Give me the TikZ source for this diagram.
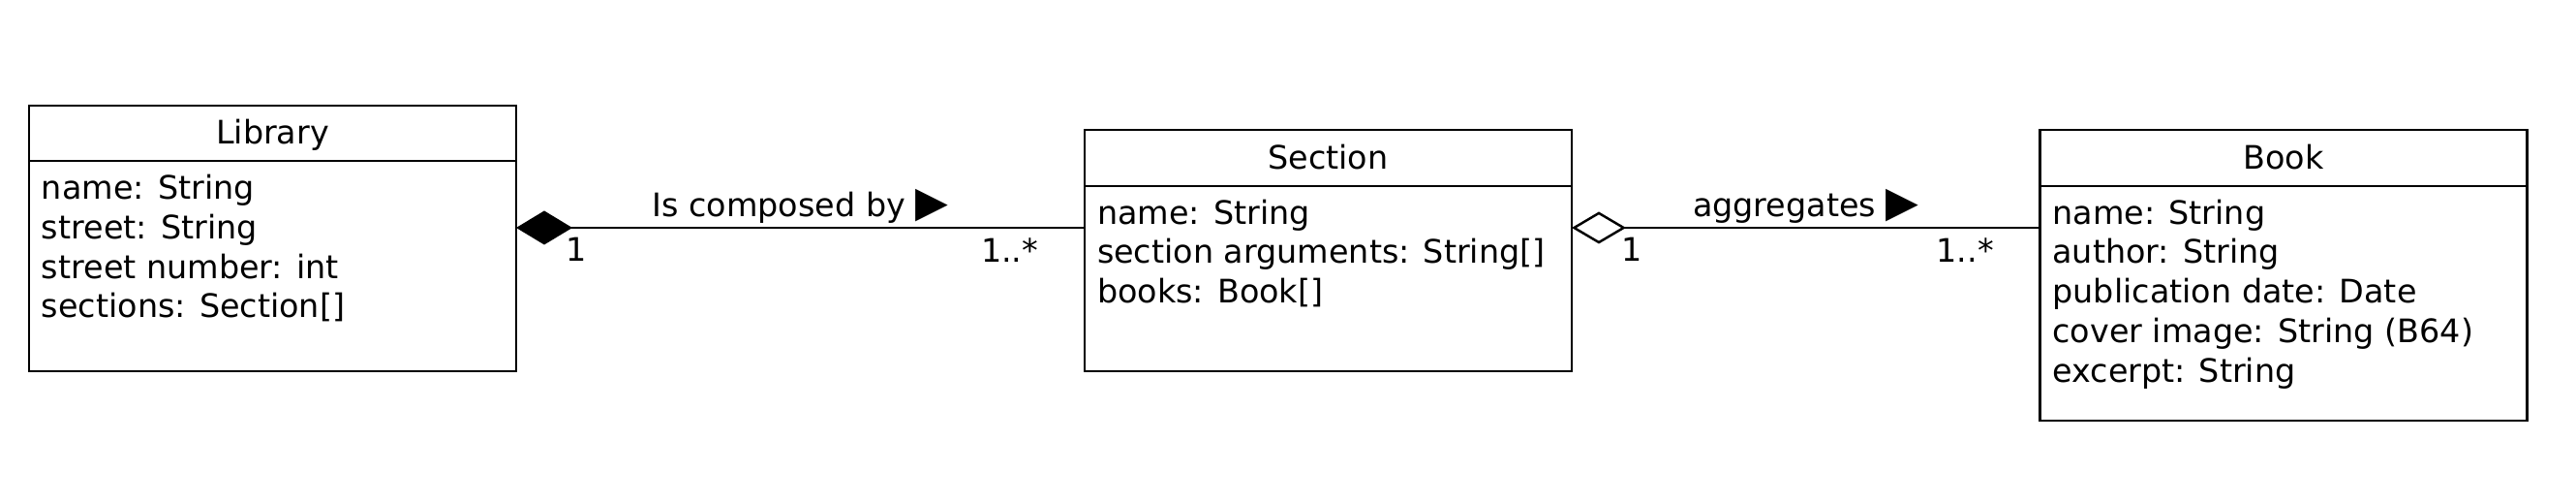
\documentclass[tikz,border=0pt]{standalone}
\usepackage{fontspec}
\setmainfont{DejaVu Sans}
\usetikzlibrary{arrows.meta, positioning}

\begin{document}
\begin{tikzpicture}[
    font=\fontsize{9.5}{11.6}\selectfont,
    line width=0.7pt,
    classhead/.style={
        draw=black,
        minimum width=5.03cm,
        minimum height=0.575cm,
        text height=0.75em,
        text depth=0.1em,
        inner sep=0pt,
        outer sep=0pt
    },
    classbody/.style={
        draw=black,
        minimum width=5.03cm,
        inner xsep=0.13cm,
        inner ysep=0.14cm,
        outer sep=0pt,
        below=0pt of #1
    },
    composition/.style={
        {Diamond[length=5.8mm,width=3.5mm]}-
    },
    aggregation/.style={
        {Diamond[open,length=5.6mm,width=3.3mm]}-
    },
    linklabel/.style={
        midway,
        above,
        inner sep=1pt
    },
    multstart/.style={
        pos=0,
        anchor=north west,
        xshift=0.47cm,
        yshift=-0.055cm,
        inner sep=1pt
    },
    multend/.style={
        pos=1,
        anchor=north east,
        xshift=-0.43cm,
        yshift=-0.055cm,
        inner sep=1pt
    }
]

\useasboundingbox (0,0) rectangle (26.6,5.2);

% --- CLASS HEADERS --------------------------------------------

\node[classhead] (libhead) at (2.815,3.825) {Library};
\node[classhead] (sechead) at (13.715,3.57) {Section};
\node[classhead] (bookhead) at (23.58,3.57) {Book};

% --- CLASS ATTRIBUTES -----------------------------------------

\node[classbody=libhead] (libbody) {\parbox[t][1.89cm][t]{4.77cm}{%
    name: String\\
    street: String\\
    street number: int\\
    sections: Section[]}};

\node[classbody=sechead] (secbody) {\parbox[t][1.63cm][t]{4.77cm}{%
    name: String\\
    section arguments: String[]\\
    books: Book[]}};

\node[classbody=bookhead] (bookbody) {\parbox[t][2.14cm][t]{4.77cm}{%
    name: String\\
    author: String\\
    publication date: Date\\
    cover image: String (B64)\\
    excerpt: String}};

% --- ASSOCIATIONS ---------------------------------------------

\coordinate (linkrow) at (0,2.85);

\draw[composition] (libbody.east |- linkrow) --
    node[linklabel] {Is composed by {\fontsize{12.5}{12.5}\selectfont ▶}}
    node[multstart] {1}
    node[multend] {1..*}
    (secbody.west |- linkrow);

\draw[aggregation] (secbody.east |- linkrow) --
    node[linklabel] {aggregates {\fontsize{12.5}{12.5}\selectfont ▶}}
    node[multstart] {1}
    node[multend] {1..*}
    (bookbody.west |- linkrow);

\end{tikzpicture}
\end{document}
